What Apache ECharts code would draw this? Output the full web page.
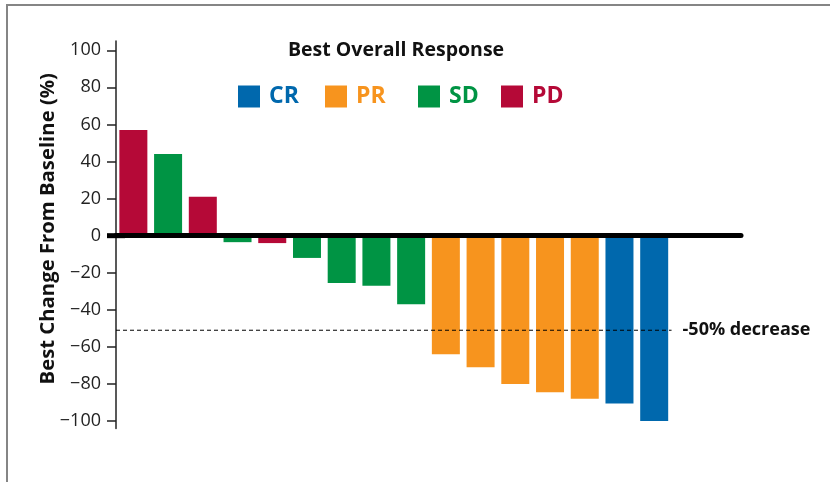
<!DOCTYPE html>
<html>
<head>
<meta charset="utf-8">
<script src="https://cdn.jsdelivr.net/npm/echarts@6/dist/echarts.min.js"></script>
<style>
html,body{margin:0;padding:0;background:#fff;}
#chart{position:absolute;left:0;top:0;width:830px;height:482px;}
#frame{position:absolute;left:6px;top:4px;width:900px;height:600px;border-left:2px solid #858585;border-top:2px solid #858585;pointer-events:none;}
</style>
</head>
<body>
<div id="chart"></div>
<div id="frame"></div>
<script>
// ---- data ----
var patients = ['1','2','3','4','5','6','7','8','9','10','11','12','13','14','15','16'];
var bestChange = [57, 44, 21, -3.5, -4, -12, -25.5, -27, -37, -64, -71, -80, -84.5, -88, -90.5, -100];
var response = ['PD','SD','PD','SD','PD','SD','SD','SD','SD','PR','PR','PR','PR','PR','CR','CR'];
var responseTypes = ['CR','PR','SD','PD'];
var responseColors = {CR:'#0068AD', PR:'#F7941E', SD:'#009444', PD:'#B50937'};
var yTicks = [-100,-80,-60,-40,-20,0,20,40,60,80,100];
var threshold = -51;
var thresholdLabel = '-50% decrease';
var legendLeft = [238, 325, 418, 501];

var FONT = '"Open Sans", "Noto Sans", sans-serif';

var series = responseTypes.map(function(t){
  return {
    name: t,
    type: 'bar',
    stack: 'all',
    barWidth: 28,
    itemStyle: {color: responseColors[t]},
    data: bestChange.map(function(v,i){ return response[i] === t ? v : null; }),
    z: 2
  };
});
series.push({
  name: 'threshold',
  type: 'line',
  xAxisIndex: 1,
  data: [[0, threshold], [patients.length, threshold]],
  symbol: 'none',
  silent: true,
  lineStyle: {color: '#000', width: 1, type: [4, 3]},
  endLabel: {
    show: true,
    formatter: thresholdLabel,
    color: '#111',
    fontFamily: FONT,
    fontWeight: 'bold',
    fontSize: 18,
    distance: 11
  },
  z: 5
});

var legends = responseTypes.map(function(t, i){
  return {
    left: legendLeft[i],
    top: 85,
    padding: 0,
    icon: 'rect',
    itemWidth: 22,
    itemHeight: 22,
    itemGap: 0,
    selectedMode: false,
    data: [{name: t, textStyle: {color: responseColors[t]}}],
    textStyle: {fontFamily: FONT, fontWeight: 'bold', fontSize: 23, padding: [0,0,0,4]}
  };
});

var chart = echarts.init(document.getElementById('chart'), null, {renderer:'canvas'});
chart.setOption({
  animation: false,
  backgroundColor: '#fff',
  title: {
    text: 'Best Overall Response',
    left: 288,
    top: 40,
    padding: 0,
    textStyle: {fontFamily: FONT, fontWeight: 'bold', fontSize: 19.5, color: '#111'}
  },
  legend: legends,
  grid: {left: 116, right: 89, top: 41, bottom: 53.5, containLabel: false},
  xAxis: [{
    type: 'category',
    data: patients,
    max: 17,
    boundaryGap: true,
    axisLine: {onZero: true, lineStyle: {color: '#000', width: 5}, symbol: ['rect','none'], symbolSize: [5, 18]},
    axisTick: {show: false},
    axisLabel: {show: false},
    splitLine: {show: false},
    z: 10
  }, {
    type: 'value',
    min: 0,
    max: 18,
    show: false
  }],
  yAxis: {
    type: 'value',
    min: -104,
    max: 105,
    name: 'Best Change From Baseline (%)',
    nameLocation: 'middle',
    nameGap: 58,
    nameMoveOverlap: false,
    nameRotate: 90,
    nameTextStyle: {fontFamily: FONT, fontWeight: 'bold', fontSize: 20.3, color: '#111', padding: [0,0,0,12]},
    axisLine: {show: true, lineStyle: {color: '#222', width: 1.5}},
    axisTick: {show: true, length: 9, customValues: yTicks, lineStyle: {color: '#222', width: 1.5}},
    axisLabel: {
      customValues: yTicks,
      margin: 15,
      fontFamily: FONT,
      fontSize: 18,
      color: '#222',
      formatter: function(v){ return v < 0 ? '\u2212' + Math.abs(v) : String(v); }
    },
    splitLine: {show: false}
  },
  series: series
});
</script>
</body>
</html>
